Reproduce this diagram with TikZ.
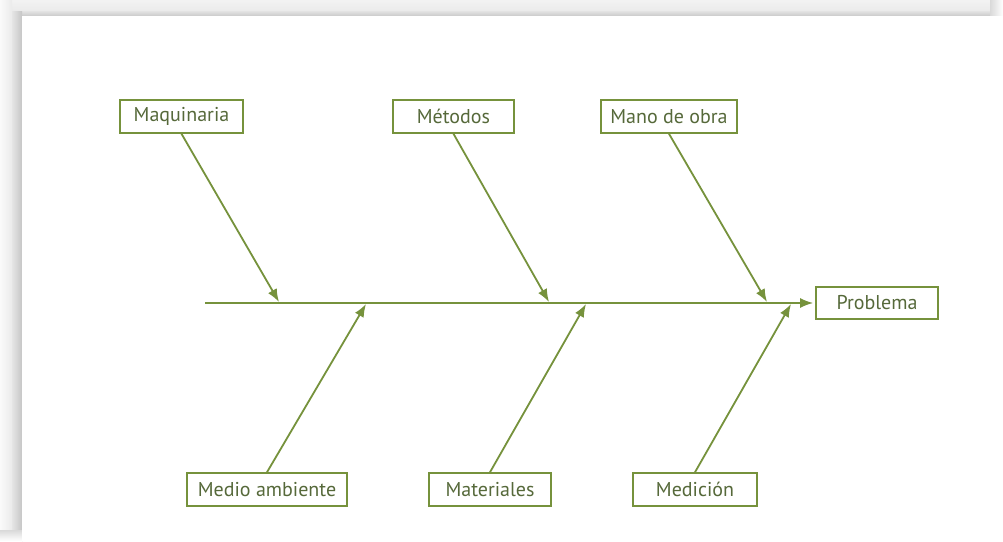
\documentclass[tikz,border=0pt]{standalone}
\usepackage{fontspec}
\setmainfont{PT Sans}
\usetikzlibrary{arrows.meta}
\definecolor{olive}{HTML}{76923C}
\definecolor{olivetext}{HTML}{56693A}
\tikzset{
  cause/.style={draw=olive, line width=1.6pt, fill=white, text=olivetext,
    minimum height=33pt, inner sep=0pt, font=\fontsize{20}{20}\selectfont},
  bone/.style={draw=olive, line width=1.8pt, -{Latex[length=13pt,width=10pt]}},
}
\begin{document}
\begin{tikzpicture}[x=1pt,y=-1pt]
  \useasboundingbox (0,0) rectangle (1003,541);
  % page and its soft frame shadow
  \fill[white] (0,0) rectangle (1003,541);
  \shade[top color=gray!10, bottom color=gray!16] (0,0) rectangle (1003,11);
  \shade[top color=gray!22, bottom color=gray!42] (10,11) rectangle (1003,16);
  \shade[left color=gray!4, right color=gray!16] (0,0) rectangle (12,541);
  \shade[left color=gray!20, right color=gray!45] (12,11) rectangle (22,541);
  \shade[left color=gray!30, right color=white] (990,0) rectangle (1003,16);
  \shade[top color=gray!30, bottom color=white] (0,530) rectangle (22,541);
  \fill[white] (22,16) rectangle (1003,541);

  % effect box
  \node[cause, minimum width=122pt, minimum height=32pt] (prob) at (877,303) {Problema};

  % cause boxes
  \node[cause, minimum width=123pt] (maq) at (181.5,116.5) {Maquinaria};
  \node[cause, minimum width=121pt] (met) at (453.5,116.5) {Métodos};
  \node[cause, minimum width=136pt] (mano) at (669,116.5) {Mano de obra};
  \node[cause, minimum width=160pt] (medio) at (267,489.5) {Medio ambiente};
  \node[cause, minimum width=122pt] (mat) at (490,489.5) {Materiales};
  \node[cause, minimum width=124pt] (medic) at (695,489.5) {Medición};

  % spine and joints
  \coordinate (tail) at (205,303);
  \coordinate (j1) at (279,302);
  \coordinate (j2) at (549,302);
  \coordinate (j3) at (767,302);
  \coordinate (k1) at (366,304);
  \coordinate (k2) at (586,304);
  \coordinate (k3) at (791,304);
  \draw[bone] (tail) -- ([xshift=-2pt]prob.west);

  % bones
  \draw[bone] (maq.south) -- (j1);
  \draw[bone] (met.south) -- (j2);
  \draw[bone] (mano.south) -- (j3);
  \draw[bone] (medio.north) -- (k1);
  \draw[bone] (mat.north) -- (k2);
  \draw[bone] (medic.north) -- (k3);
\end{tikzpicture}
\end{document}
